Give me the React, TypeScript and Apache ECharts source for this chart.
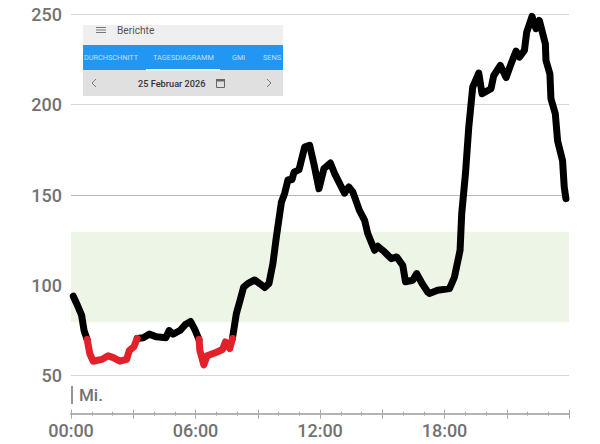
import React, { useEffect, useRef } from "react";
import * as echarts from "echarts";

const hours = [0.11,0.27,0.51,0.63,0.78,0.91,1.07,1.48,1.79,2.04,2.36,2.68,2.81,3.03,3.19,3.48,3.77,4.12,4.57,4.73,4.92,5.25,5.53,5.76,5.97,6.17,6.21,6.4,6.56,7.01,7.3,7.44,7.65,7.78,7.97,8.13,8.32,8.52,8.85,9.09,9.34,9.54,9.73,9.9,10.14,10.3,10.46,10.65,10.75,10.99,11.26,11.5,11.71,11.95,12.19,12.5,12.7,13.18,13.39,13.58,13.9,14.15,14.3,14.63,14.79,15.11,15.43,15.7,15.99,16.12,16.47,16.66,16.92,17.19,17.27,17.67,18.24,18.48,18.75,18.83,19.01,19.17,19.36,19.65,19.81,20.24,20.37,20.69,20.97,21.21,21.45,21.61,21.85,21.96,22.22,22.41,22.57,22.86,22.89,23.08,23.13,23.34,23.45,23.69,23.77,23.85];
const glucose = [94,90,83.5,75,70,62,58,59,61,60,58,59,64,66,70.6,71,73,71.5,71,75,73,75,78.5,80,75.5,70,64,56,61,63,64.5,68.7,65,70.6,84.4,91,99,101,103,101,98.8,101,112,127,146,151,158.5,158.5,162.7,164,176.5,177.5,167,153.5,164.6,167.7,162,151,154.4,151.7,141.5,136,128.7,119.4,121.6,118.5,114.8,115.7,111,102,102.8,106.5,101,96.3,95.5,97.3,98.2,104.6,119.4,139.7,161.8,187.6,209.7,217.5,206,208.8,216,221.7,215,222.7,229.6,226.3,230,240,248.8,242,246.6,233.7,224.5,217,203.3,195,180,169,154.4,148];
const yTicks = { min: 50, max: 250, interval: 50 };
const gridColors = ["#d6d6d6", "#d2d6cc", "#b8b8b8", "#d6d6d6", "#d6d6d6"];
const targetLow = 79.6;
const targetHigh = 129.6;
const lowLimit = 70;
const lowJoin = 70.6;
const timeLabels = ["00:00", "06:00", "12:00", "18:00"];
const dayLabel = "Mi.";
const insetTitle = "Berichte";
const insetDate = "25 Februar 2026";
const insetTabs = ["DURCHSCHNITT", "TAGESDIAGRAMM", "GMI", "SENS"];
const insetTabX = [84, 153, 232, 263];

const FONT = "Roboto";
const GREY = "#727272";

export default function App() {
  const ref = useRef<HTMLDivElement>(null);
  useEffect(() => {
    document.body.style.margin = "0";
    const chart = echarts.init(ref.current!, undefined, { renderer: "svg" });
    const axisBase = {
      type: "value" as const,
      min: 0,
      max: 24,
      interval: 3,
      position: "bottom" as const,
      offset: 38,
      splitLine: { show: false },
      axisLine: { show: true, onZero: false, lineStyle: { color: "#b4b4b4", width: 2 } },
      minorSplitLine: { show: false },
    };
    const lineSeries = (keep: (v: number) => boolean, color: string) => ({
      type: "line",
      xAxisIndex: 0,
      data: hours.map((h, i) => [h, keep(glucose[i]) ? glucose[i] : null]),
      showSymbol: false,
      symbol: "none",
      clip: false,
      connectNulls: false,
      lineStyle: { width: 7, cap: "round", join: "round", color },
    });
    chart.setOption({
      animation: false,
      backgroundColor: "#ffffff",
      grid: { left: 71, right: 31, top: 14.3, bottom: 68.3 },
      xAxis: [
        {
          ...axisBase,
          axisTick: { show: true, length: 5, lineStyle: { color: "#a8a8a8", width: 1 } },
          minorTick: { show: true, splitNumber: 3, length: 2, lineStyle: { color: "#a8a8a8", width: 1 } },
          axisLabel: {
            show: true,
            margin: 8,
            fontFamily: FONT,
            fontSize: 18,
            fontWeight: 500,
            color: GREY,
            showMaxLabel: false,
            formatter: (v: number) => (v % 6 === 0 ? timeLabels[v / 6] ?? "" : ""),
          },
        },
        {
          ...axisBase,
          axisTick: { show: true, inside: true, length: 4, lineStyle: { color: "#a8a8a8", width: 1 } },
          minorTick: { show: true, splitNumber: 3, length: 2, lineStyle: { color: "#a8a8a8", width: 1 } },
          axisLabel: { show: false },
        },
      ],
      yAxis: {
        type: "value",
        ...yTicks,
        axisLine: { show: false },
        axisTick: { show: false },
        axisLabel: { margin: 9, fontFamily: FONT, fontSize: 18, fontWeight: 500, color: GREY },
        splitLine: { show: true, lineStyle: { color: gridColors, width: 1 } },
      },
      series: [
        {
          ...lineSeries((v) => v >= lowLimit, "#000000"),
          markArea: {
            silent: true,
            z: 0,
            itemStyle: { color: "#edf5e6" },
            data: [[{ yAxis: targetLow }, { yAxis: targetHigh }]],
          },
        },
        lineSeries((v) => v <= lowJoin, "#e2212b"),
      ],
      graphic: [
        { type: "rect", z: 10, shape: { x: 83, y: 25, width: 200, height: 20 }, style: { fill: "#efefef" } },
        { type: "rect", z: 10, shape: { x: 83, y: 45, width: 200, height: 25 }, style: { fill: "#2196f3" } },
        { type: "rect", z: 10, shape: { x: 83, y: 70, width: 200, height: 26 }, style: { fill: "#e0e0e0" } },
        { type: "rect", z: 11, shape: { x: 146, y: 69, width: 74, height: 1.5 }, style: { fill: "#ffffff" } },
        ...[27.5, 30, 32.5].map((y) => ({
          type: "line", z: 11, shape: { x1: 96, y1: y, x2: 106, y2: y }, style: { stroke: "#777777", lineWidth: 1 },
        })),
        { type: "text", z: 11, style: { text: insetTitle, x: 117, y: 30, fill: "#555555", font: `10.2px ${FONT}`, verticalAlign: "middle" } },
        ...insetTabs.map((t, i) => ({
          type: "text", z: 11,
          style: { text: t, x: insetTabX[i], y: 57.5, fill: "#bfe0fb", font: `7.3px ${FONT}`, verticalAlign: "middle" },
        })),
        { type: "text", z: 11, style: { text: insetDate, x: 138, y: 83, fill: "#333333", font: `500 9.2px ${FONT}`, verticalAlign: "middle" } },
        { type: "polyline", z: 11, shape: { points: [[96, 79], [92, 83], [96, 87]] }, style: { stroke: "#777777", lineWidth: 1, fill: "none" } },
        { type: "polyline", z: 11, shape: { points: [[267, 79], [271, 83], [267, 87]] }, style: { stroke: "#777777", lineWidth: 1, fill: "none" } },
        { type: "rect", z: 11, shape: { x: 216.5, y: 79.5, width: 8, height: 8 }, style: { fill: "none", stroke: "#666666", lineWidth: 1 } },
        { type: "rect", z: 11, shape: { x: 216, y: 79, width: 9, height: 2.5 }, style: { fill: "#666666" } },
        { type: "line", z: 11, shape: { x1: 72, y1: 386, x2: 72, y2: 404 }, style: { stroke: GREY, lineWidth: 1.5 } },
        { type: "text", z: 11, style: { text: dayLabel, x: 79, y: 395, fill: GREY, font: `500 17px ${FONT}`, verticalAlign: "middle" } },
      ],
    });
    return () => chart.dispose();
  }, []);
  return <div ref={ref} style={{ position: "fixed", left: 0, top: 0, width: 600, height: 444 }} />;
}
